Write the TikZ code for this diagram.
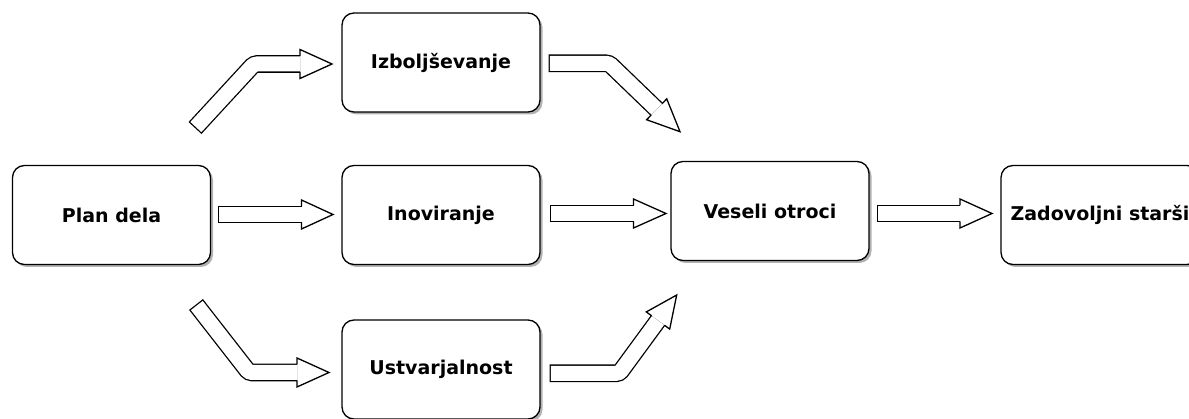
\documentclass[tikz,border=0pt]{standalone}
\usepackage{fontspec}
\setmainfont{DejaVu Sans}
\usetikzlibrary{calc,shadows}

\tikzset{
	box/.style={draw, line width=1.3pt, rounded corners=12pt, fill=white, minimum width=198pt, minimum height=99pt, font=\bfseries\fontsize{19}{23}\selectfont, drop shadow={shadow xshift=2.5pt, shadow yshift=-2.5pt, fill=black, opacity=0.3}},
	shaftout/.style={line width=17.6pt, rounded corners=3pt, line cap=butt},
	shaftin/.style={line width=15pt, white, rounded corners=3pt, line cap=butt, shorten <=1.3pt},
	headline/.style={line width=1.3pt, line join=miter},
}

% hollow block arrow: shaft path, head base, head tip
\newcommand{\hollowarrow}[3]{%
	\draw[shaftout] #1;
	\draw[shaftin] #1;
	\draw[headline] ($(#2)!8pt!90:(#3)$) -- ($(#2)!14.5pt!90:(#3)$) -- (#3) -- ($(#2)!14.5pt!-90:(#3)$) -- ($(#2)!8pt!-90:(#3)$);
}

\begin{document}
\begin{tikzpicture}[x=1pt, y=-1pt]
				\clip (0,0) rectangle (1189,419);
				
				%Boxes
				\node[box] (plan) at (111.5,215) {Plan dela};
				\node[box] (izbolj) at (441,62.5) {Izboljševanje};
				\node[box] (inov) at (441,215) {Inoviranje};
				\node[box] (ustvar) at (441,369.5) {Ustvarjalnost};
				\node[box] (veseli) at (770,211) {Veseli otroci};
				\node[box] (zadov) at (1100,215) {Zadovoljni starši};
				
				%Arrow ends
				\coordinate (h1s) at (218,214.5);
				\coordinate (h1b) at (301.5,214.5);
				\coordinate (h1t) at (333,214.5);
				\coordinate (h2s) at (550,213.5);
				\coordinate (h2b) at (633.5,213.5);
				\coordinate (h2t) at (666,213.5);
				\coordinate (h3s) at (877,213.5);
				\coordinate (h3b) at (960,213.5);
				\coordinate (h3t) at (992,213.5);
				\coordinate (upS) at (195,128);
				\coordinate (upM) at (254,64);
				\coordinate (upB) at (300,64);
				\coordinate (upT) at (332,64);
				\coordinate (dnS) at (196,304.5);
				\coordinate (dnM) at (249,372.5);
				\coordinate (dnB) at (297,372.5);
				\coordinate (dnT) at (329,372.5);
				\coordinate (rdS) at (548.5,63.3);
				\coordinate (rdM) at (609,63.3);
				\coordinate (rdB) at (656.7,109.3);
				\coordinate (rdT) at (680,131.7);
				\coordinate (ruS) at (549.5,373.3);
				\coordinate (ruM) at (619.3,373.3);
				\coordinate (ruB) at (658,320.5);
				\coordinate (ruT) at (676.7,295);
				
				%Straight arrows
				\hollowarrow{(h1s) -- (h1b)}{h1b}{h1t}
				\hollowarrow{(h2s) -- (h2b)}{h2b}{h2t}
				\hollowarrow{(h3s) -- (h3b)}{h3b}{h3t}
				
				%Bent arrows
				\hollowarrow{(upS) -- (upM) -- (upB)}{upB}{upT}
				\hollowarrow{(dnS) -- (dnM) -- (dnB)}{dnB}{dnT}
				\hollowarrow{(rdS) -- (rdM) -- (rdB)}{rdB}{rdT}
				\hollowarrow{(ruS) -- (ruM) -- (ruB)}{ruB}{ruT}
			\end{tikzpicture}
\end{document}
